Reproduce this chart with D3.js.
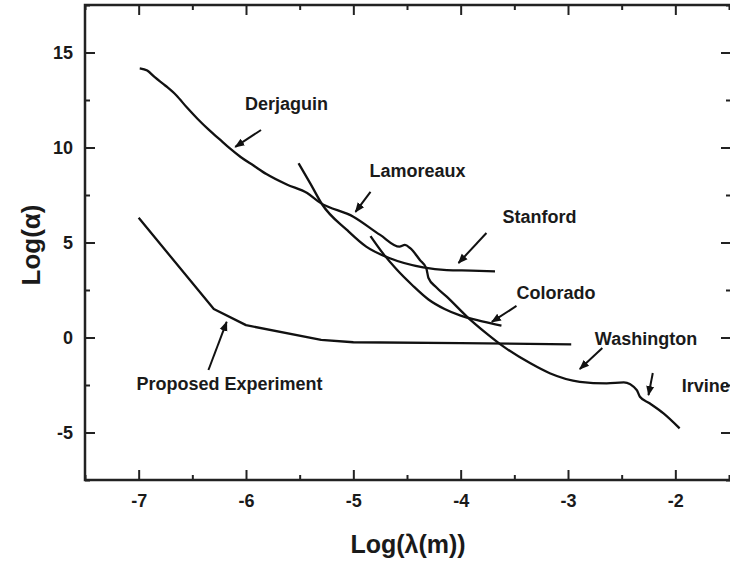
<!DOCTYPE html>
<html>
<head>
<meta charset="utf-8">
<script src="https://cdn.jsdelivr.net/npm/d3@7"></script>
<style>
  body { margin: 0; background: #fff; }
  svg text { font-family: "Liberation Sans", Arial, sans-serif; font-weight: bold; fill: #1a1a1a; }
</style>
</head>
<body>
<div id="chart"></div>
<script>
// data (log10 lambda, log10 alpha)
var derjaguin = [[-6.99,14.17],[-6.92,14.05],[-6.85,13.7],[-6.75,13.25],[-6.65,12.75],[-6.55,12.1],
  [-6.45,11.5],[-6.35,10.95],[-6.25,10.45],[-6.15,9.95],[-6.05,9.5],[-5.93,9.05],[-5.81,8.6],
  [-5.62,8.05],[-5.43,7.6],[-5.31,7.1],[-5.0,6.36],[-4.75,5.4],[-4.57,4.78],[-4.52,4.87],
  [-4.47,4.7],[-4.38,4.08],[-4.32,3.64],[-4.30,3.13],[-4.23,2.66],[-4.13,2.15],[-3.94,1.09],
  [-3.76,0.22],[-3.60,-0.48],[-3.35,-1.36],[-3.17,-1.88],[-2.89,-2.33],[-2.64,-2.41],
  [-2.48,-2.36],[-2.36,-2.76],[-2.33,-3.12],[-2.24,-3.46],[-2.11,-3.99],[-1.96,-4.78]];
var stanford = [[-5.51,9.17],[-5.40,8.1],[-5.29,7.0],[-5.06,5.66],[-4.88,4.78],[-4.66,4.17],
  [-4.35,3.69],[-4.13,3.55],[-3.9,3.52],[-3.68,3.48]];
var colorado = [[-4.84,5.34],[-4.72,4.4],[-4.6,3.6],[-4.45,2.75],[-4.3,2.0],[-4.15,1.5],
  [-4.0,1.15],[-3.8,0.85],[-3.62,0.62]];
var proposed = [[-7,6.3],[-6.3,1.5],[-6,0.65],[-5.3,-0.12],[-5,-0.25],[-4,-0.3],[-2.97,-0.36]];

var xTicks = [-7,-6,-5,-4,-3,-2];
var yTicks = [-5,0,5,10,15];

// labels: name, text position, arrow from -> to
var labels = [
  {name:"Derjaguin", tx:-6.01, ty:11.97, a:[[-5.86,10.92],[-6.10,10.03]]},
  {name:"Lamoreaux", tx:-4.85, ty:8.45, a:[[-4.84,7.66],[-4.98,6.61]]},
  {name:"Stanford", tx:-3.61, ty:6.03, a:[[-3.76,5.5],[-4.02,3.92]]},
  {name:"Colorado", tx:-3.48, ty:2.03, a:[[-3.48,1.66],[-3.71,0.82]]},
  {name:"Washington", tx:-2.75, ty:-0.39, a:[[-2.68,-0.55],[-2.89,-1.66]]},
  {name:"Irvine", tx:-1.94, ty:-2.87, a:[[-2.21,-1.87],[-2.25,-3.03]]},
  {name:"Proposed Experiment", tx:-7.02, ty:-2.76, a:[[-6.35,-1.71],[-6.18,0.82]]}
];

var W = 730, H = 565;
var mLeft = 85, mRight = 729, mTop = 5, mBottom = 480;

var svg = d3.select("#chart").append("svg")
    .attr("width", W)
    .attr("height", H);

var x = d3.scaleLinear().domain([-7.5, -1.5]).range([mLeft, mRight]);
var y = d3.scaleLinear().domain([-7.5, 17.5]).range([mBottom, mTop]);

var xMinor = d3.range(-7.5, -1.4, 0.5).filter(function(v){ return xTicks.indexOf(v) < 0; });
var yMinor = d3.range(-7.5, 17.6, 2.5).filter(function(v){ return yTicks.indexOf(v) < 0; });
var fmt = function(d){ return String(d); };

function styleAxis(g) {
  g.select(".domain").remove();
  g.selectAll("line").attr("stroke", "#222").attr("stroke-width", 2);
}

// bottom
svg.append("g").attr("transform", "translate(0," + mBottom + ")")
  .call(d3.axisBottom(x).tickValues(xTicks).tickSize(-10).tickPadding(14).tickFormat(fmt))
  .call(styleAxis)
  .selectAll("text").style("font-size", "18px").style("font-family", "'Liberation Sans', Arial, sans-serif").attr("fill", "#1a1a1a");
svg.append("g").attr("transform", "translate(0," + mBottom + ")")
  .call(d3.axisBottom(x).tickValues(xMinor).tickSize(-5).tickFormat(""))
  .call(styleAxis);
// top
svg.append("g").attr("transform", "translate(0," + mTop + ")")
  .call(d3.axisTop(x).tickValues(xTicks).tickSize(-10).tickFormat(""))
  .call(styleAxis);
svg.append("g").attr("transform", "translate(0," + mTop + ")")
  .call(d3.axisTop(x).tickValues(xMinor).tickSize(-5).tickFormat(""))
  .call(styleAxis);
// left
svg.append("g").attr("transform", "translate(" + mLeft + ",0)")
  .call(d3.axisLeft(y).tickValues(yTicks).tickSize(-10).tickPadding(12).tickFormat(fmt))
  .call(styleAxis)
  .selectAll("text").style("font-size", "18px").style("font-family", "'Liberation Sans', Arial, sans-serif").attr("fill", "#1a1a1a");
svg.append("g").attr("transform", "translate(" + mLeft + ",0)")
  .call(d3.axisLeft(y).tickValues(yMinor).tickSize(-5).tickFormat(""))
  .call(styleAxis);
// right (its line falls just past the window edge)
svg.append("g").attr("transform", "translate(" + (mRight + 2) + ",0)")
  .call(d3.axisRight(y).tickValues(yTicks).tickSize(-10).tickFormat(""))
  .call(styleAxis);
svg.append("g").attr("transform", "translate(" + (mRight + 2) + ",0)")
  .call(d3.axisRight(y).tickValues(yMinor).tickSize(-5).tickFormat(""))
  .call(styleAxis);

// frame: top, left, bottom
svg.append("path")
  .attr("d", "M" + (mRight + 3) + "," + mTop + "H" + mLeft + "V" + mBottom + "H" + (mRight + 3))
  .attr("fill", "none").attr("stroke", "#222").attr("stroke-width", 2.5);

var line = d3.line()
  .curve(d3.curveMonotoneX)
  .x(function(d){ return x(d[0]); })
  .y(function(d){ return y(d[1]); });
var straight = d3.line()
  .x(function(d){ return x(d[0]); })
  .y(function(d){ return y(d[1]); });

[derjaguin, stanford, colorado].forEach(function(s){
  svg.append("path")
    .attr("d", line(s))
    .attr("fill", "none")
    .attr("stroke", "#111")
    .attr("stroke-width", 2.3)
    .attr("stroke-linejoin", "round");
});
svg.append("path")
  .attr("d", straight(proposed))
  .attr("fill", "none")
  .attr("stroke", "#111")
  .attr("stroke-width", 2.3)
  .attr("stroke-linejoin", "round");

// arrowhead
svg.append("defs").append("marker")
  .attr("id", "head")
  .attr("viewBox", "0 0 10 10")
  .attr("refX", 9).attr("refY", 5)
  .attr("markerWidth", 5).attr("markerHeight", 5)
  .attr("markerUnits", "strokeWidth")
  .attr("orient", "auto")
  .append("path").attr("d", "M0,1 L10,5 L0,9 z").attr("fill", "#111");

labels.forEach(function(l){
  svg.append("text")
    .attr("x", x(l.tx)).attr("y", y(l.ty))
    .style("font-size", "18px")
    .text(l.name);
  svg.append("line")
    .attr("x1", x(l.a[0][0])).attr("y1", y(l.a[0][1]))
    .attr("x2", x(l.a[1][0])).attr("y2", y(l.a[1][1]))
    .attr("stroke", "#111").attr("stroke-width", 2)
    .attr("marker-end", "url(#head)");
});

// axis titles
svg.append("text")
  .attr("x", 408).attr("y", 553)
  .attr("text-anchor", "middle")
  .style("font-size", "25px")
  .text("Log(λ(m))");
svg.append("text")
  .attr("transform", "translate(40,245) rotate(-90)")
  .attr("text-anchor", "middle")
  .style("font-size", "26px")
  .text("Log(α)");
</script>
</body>
</html>
